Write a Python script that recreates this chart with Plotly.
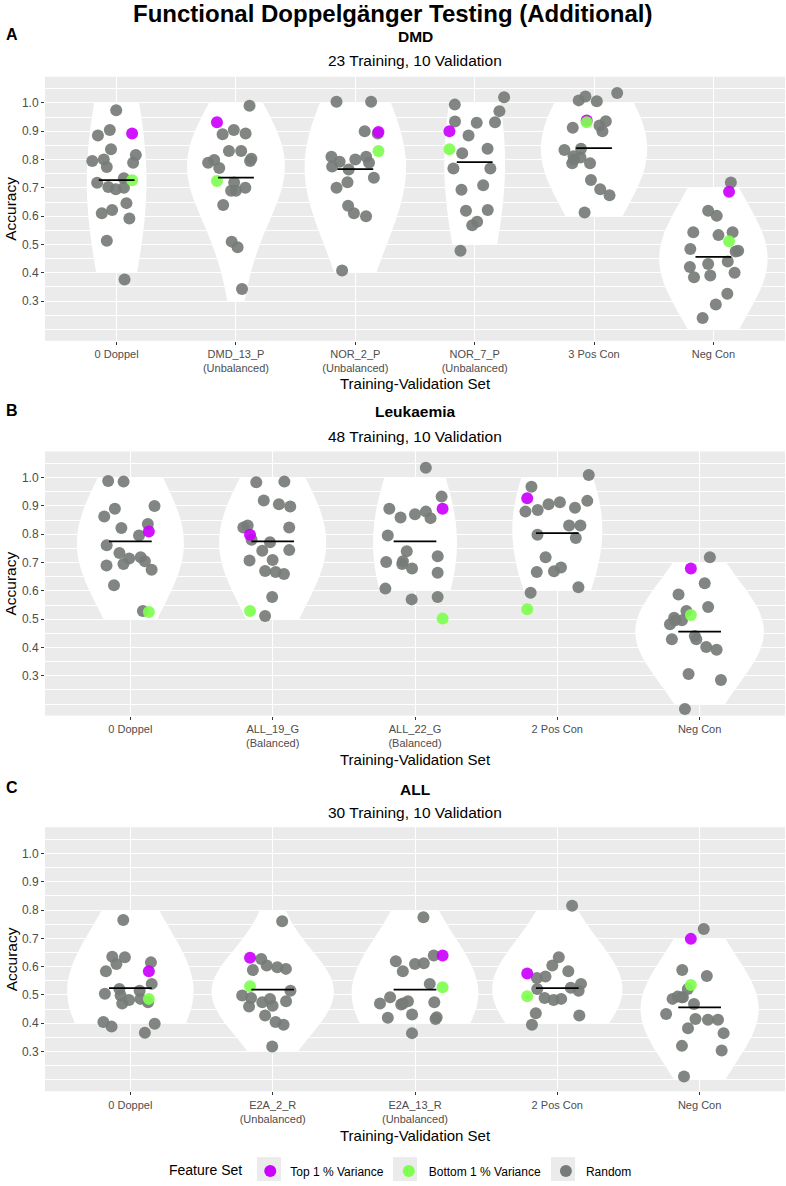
import numpy as np
import plotly.graph_objects as go

W, H = 786, 1186

# ---------------- DATA ----------------
dmd_categories = ["0 Doppel", "DMD_13_P", "NOR_2_P", "NOR_7_P", "3 Pos Con", "Neg Con"]
dmd_ticklabels = ["0 Doppel", "DMD_13_P<br>(Unbalanced)", "NOR_2_P<br>(Unbalanced)",
                  "NOR_7_P<br>(Unbalanced)", "3 Pos Con", "Neg Con"]
dmd_random = [
    [0.974, 0.904, 0.885, 0.836, 0.816, 0.800, 0.795, 0.789, 0.774, 0.734, 0.718, 0.703, 0.695, 0.700, 0.646, 0.622, 0.610, 0.592, 0.513, 0.376],
    [0.990, 0.904, 0.889, 0.892, 0.830, 0.830, 0.789, 0.795, 0.803, 0.798, 0.770, 0.719, 0.690, 0.690, 0.700, 0.639, 0.510, 0.490, 0.343],
    [1.004, 1.004, 0.900, 0.892, 0.789, 0.810, 0.800, 0.810, 0.792, 0.775, 0.765, 0.736, 0.720, 0.700, 0.637, 0.610, 0.600, 0.408],
    [1.020, 0.994, 0.971, 0.932, 0.930, 0.934, 0.885, 0.838, 0.822, 0.768, 0.768, 0.709, 0.693, 0.619, 0.622, 0.580, 0.568, 0.478],
    [1.035, 1.009, 1.006, 1.023, 0.920, 0.935, 0.900, 0.912, 0.838, 0.834, 0.807, 0.800, 0.787, 0.787, 0.812, 0.728, 0.674, 0.695, 0.613],
    [0.719, 0.619, 0.601, 0.533, 0.543, 0.543, 0.484, 0.475, 0.478, 0.440, 0.431, 0.420, 0.400, 0.390, 0.384, 0.326, 0.288, 0.240],
]
dmd_top = [0.892, 0.932, 0.897, 0.900, 0.938, 0.686]
dmd_bottom = [0.727, 0.724, 0.830, 0.836, 0.932, 0.511]
dmd_means = [0.727, 0.736, 0.766, 0.791, 0.840, 0.456]

leuk_categories = ["0 Doppel", "ALL_19_G", "ALL_22_G", "2 Pos Con", "Neg Con"]
leuk_ticklabels = ["0 Doppel", "ALL_19_G<br>(Balanced)", "ALL_22_G<br>(Balanced)", "2 Pos Con", "Neg Con"]
leuk_random = [
    [0.988, 0.986, 0.900, 0.890, 0.863, 0.836, 0.822, 0.796, 0.761, 0.734, 0.714, 0.705, 0.719, 0.690, 0.695, 0.675, 0.620, 0.529],
    [0.984, 0.986, 0.906, 0.919, 0.898, 0.831, 0.824, 0.824, 0.781, 0.772, 0.744, 0.742, 0.707, 0.709, 0.660, 0.667, 0.670, 0.578, 0.511],
    [1.035, 0.933, 0.890, 0.880, 0.871, 0.857, 0.859, 0.796, 0.740, 0.722, 0.705, 0.695, 0.679, 0.702, 0.664, 0.608, 0.578, 0.570],
    [1.009, 0.968, 0.906, 0.880, 0.894, 0.886, 0.918, 0.913, 0.831, 0.831, 0.798, 0.787, 0.719, 0.683, 0.669, 0.667, 0.613, 0.593],
    [0.719, 0.627, 0.587, 0.543, 0.529, 0.505, 0.482, 0.496, 0.496, 0.441, 0.429, 0.429, 0.392, 0.402, 0.306, 0.285, 0.183],
]
leuk_top = [0.810, 0.798, 0.890, 0.927, 0.679]
leuk_bottom = [0.525, 0.529, 0.502, 0.535, 0.515]
leuk_means = [0.775, 0.775, 0.775, 0.804, 0.456]

all_categories = ["0 Doppel", "E2A_2_R", "E2A_13_R", "2 Pos Con", "Neg Con"]
all_ticklabels = ["0 Doppel", "E2A_2_R<br>(Unbalanced)", "E2A_13_R<br>(Unbalanced)", "2 Pos Con", "Neg Con"]
all_random = [
    [0.765, 0.635, 0.633, 0.615, 0.609, 0.584, 0.539, 0.521, 0.515, 0.498, 0.504, 0.486, 0.482, 0.474, 0.470, 0.398, 0.404, 0.388, 0.366],
    [0.760, 0.627, 0.598, 0.604, 0.592, 0.588, 0.515, 0.498, 0.478, 0.474, 0.486, 0.489, 0.462, 0.459, 0.427, 0.395, 0.404, 0.318],
    [0.774, 0.639, 0.612, 0.619, 0.609, 0.584, 0.539, 0.492, 0.474, 0.470, 0.470, 0.466, 0.478, 0.419, 0.421, 0.431, 0.415, 0.365],
    [0.815, 0.633, 0.604, 0.584, 0.565, 0.560, 0.539, 0.525, 0.515, 0.521, 0.489, 0.486, 0.482, 0.435, 0.427, 0.395],
    [0.733, 0.588, 0.567, 0.521, 0.492, 0.494, 0.492, 0.468, 0.486, 0.433, 0.412, 0.412, 0.415, 0.382, 0.365, 0.304, 0.320, 0.212],
]
all_top = [0.584, 0.631, 0.639, 0.576, 0.698]
all_bottom = [0.486, 0.531, 0.527, 0.495, 0.535]
all_means = [0.524, 0.519, 0.519, 0.524, 0.456]

y_ticks = [0.3, 0.4, 0.5, 0.6, 0.7, 0.8, 0.9, 1.0]
y_minor = [0.2, 0.25, 0.35, 0.45, 0.55, 0.65, 0.75, 0.85, 0.95, 1.05]

legend_names = ["Top 1 % Variance", "Bottom 1 % Variance", "Random"]

# ---------------- STYLE ----------------
FONT = "Liberation Sans, Arial, sans-serif"
COL_RANDOM = "#767C77"
COL_TOP = "#CC00FF"
COL_BOTTOM = "#7FFF50"
legend_colors = [COL_TOP, COL_BOTTOM, COL_RANDOM]
PANEL_BG = "#EBEBEB"
X_LEFT, X_RIGHT = 45, 785

# violin look: max width (x units) and end-to-peak width ratios (top end, bottom end)
dmd_vwidth = [0.50, 0.82, 0.85, 0.51, 0.89, 0.90]
dmd_vends = [(0.78, 0.66), (0.57, 0.15), (0.65, 0.45), (0.90, 0.70), (0.76, 0.53), (0.46, 0.48)]
leuk_vwidth = [0.75, 0.75, 0.59, 0.63, 0.90]
leuk_vends = [(0.63, 0.48), (0.63, 0.48), (0.71, 0.88), (0.78, 0.76), (0.41, 0.40)]
all_vwidth = [0.885, 0.86, 0.89, 0.91, 0.83]
all_vends = [(0.46, 0.84), (0.29, 0.35), (0.38, 0.84), (0.29, 0.84), (0.52, 0.34)]

# legend placement (px) and key-box centres
LEGEND_LEFT, LEGEND_Y = 167, 1175
KEY_CENTERS = [269, 405, 563]


def px_x(x):
    return x / W


def px_y(y):
    return 1 - y / H


def kde(x, grid, bw):
    return np.exp(-0.5 * ((grid[:, None] - x[None, :]) / bw) ** 2).sum(1)


def pick_bandwidth(x, ends):
    """Smoothing bandwidth whose trimmed KDE best matches the wanted end/peak widths."""
    x = np.asarray(x, float)
    grid = np.linspace(x.min(), x.max(), 200)
    best, best_err = None, np.inf
    for bw in np.linspace(0.02, 0.8, 400):
        d = kde(x, grid, bw)
        d = d / d.max()
        err = (d[-1] - ends[0]) ** 2 + (d[0] - ends[1]) ** 2
        if err < best_err:
            best, best_err = bw, err
    return best


panels = [
    dict(cats=dmd_categories, labels=dmd_ticklabels, rnd=dmd_random, top=dmd_top, bot=dmd_bottom,
         means=dmd_means, vw=dmd_vwidth, ve=dmd_vends, title="DMD", sub="23 Training, 10 Validation",
         letter="A", ptop=77, pbot=342, letter_y=35, title_y=37, sub_y=61, xt_y=385),
    dict(cats=leuk_categories, labels=leuk_ticklabels, rnd=leuk_random, top=leuk_top, bot=leuk_bottom,
         means=leuk_means, vw=leuk_vwidth, ve=leuk_vends, title="Leukaemia", sub="48 Training, 10 Validation",
         letter="B", ptop=453, pbot=718, letter_y=412, title_y=413, sub_y=438, xt_y=762),
    dict(cats=all_categories, labels=all_ticklabels, rnd=all_random, top=all_top, bot=all_bottom,
         means=all_means, vw=all_vwidth, ve=all_vends, title="ALL", sub="30 Training, 10 Validation",
         letter="C", ptop=830, pbot=1095, letter_y=790, title_y=792, sub_y=815, xt_y=1139),
]

fig = go.Figure()
annotations = []
layout_axes = {}

for i, p in enumerate(panels, start=1):
    xa = "x" if i == 1 else f"x{i}"
    ya = "y" if i == 1 else f"y{i}"
    cats = p["cats"]
    n = len(cats)
    unit_px = (X_RIGHT - X_LEFT) / (n + 0.2)

    # violins: from the underlying accuracy values (jitter removed)
    for c, v, w, ends in zip(cats, p["rnd"], p["vw"], p["ve"]):
        vd = np.round(np.asarray(v, float), 1)
        fig.add_trace(go.Violin(
            x=[c] * len(vd), y=vd, bandwidth=pick_bandwidth(vd, ends), spanmode="hard",
            scalemode="width", width=w, fillcolor="white", line=dict(color="white", width=0),
            points=False, box_visible=False, meanline_visible=False, opacity=1,
            showlegend=False, hoverinfo="skip", xaxis=xa, yaxis=ya))

    # jittered points
    rx, ry = [], []
    for c, v in zip(cats, p["rnd"]):
        rx += [c] * len(v)
        ry += list(v)
    for xs, ys, col in [(rx, ry, COL_RANDOM), (cats, p["top"], COL_TOP), (cats, p["bot"], COL_BOTTOM)]:
        fig.add_trace(go.Box(
            x=xs, y=ys, boxpoints="all", jitter=1.0, pointpos=0, width=0.5,
            fillcolor="rgba(0,0,0,0)", line=dict(color="rgba(0,0,0,0)", width=0),
            whiskerwidth=0, marker=dict(color=col, size=12, opacity=0.92, line=dict(width=0)),
            showlegend=False, hoverinfo="y", xaxis=xa, yaxis=ya))

    # mean lines
    fig.add_trace(go.Scatter(
        x=cats, y=p["means"], mode="markers",
        marker=dict(symbol="line-ew", size=0.3 * unit_px / 1.4, line=dict(width=1.8, color="black")),
        showlegend=False, hoverinfo="skip", xaxis=xa, yaxis=ya))

    dom_y = [px_y(p["pbot"]), px_y(p["ptop"])]
    layout_axes["xaxis" if i == 1 else f"xaxis{i}"] = dict(
        type="category", categoryorder="array", categoryarray=cats,
        range=[-0.6, n - 0.4], domain=[px_x(X_LEFT), px_x(X_RIGHT)], anchor=ya,
        tickmode="array", tickvals=cats, ticktext=p["labels"],
        showgrid=True, gridcolor="white", gridwidth=1.1, zeroline=False, showline=False,
        ticks="outside", ticklen=3, tickcolor="#333333", tickwidth=1,
        tickfont=dict(family=FONT, size=11, color="#4D4D4D"), fixedrange=True)
    layout_axes["yaxis" if i == 1 else f"yaxis{i}"] = dict(
        range=[0.1595, 1.0925], domain=dom_y, anchor=xa,
        tickmode="array", tickvals=y_ticks, ticktext=[f"{t:.1f}" for t in y_ticks],
        showgrid=True, gridcolor="white", gridwidth=1.1, zeroline=False, showline=False,
        minor=dict(tickmode="array", tickvals=y_minor, showgrid=True, gridcolor="white",
                   gridwidth=0.55, ticks=""),
        ticks="outside", ticklen=3, tickcolor="#333333", tickwidth=1,
        tickfont=dict(family=FONT, size=12, color="#4D4D4D"), fixedrange=True)

    cx = px_x((X_LEFT + X_RIGHT) / 2)
    annotations += [
        dict(text=f"<b>{p['letter']}</b>", x=px_x(4), y=px_y(p["letter_y"]), xanchor="left",
             yanchor="middle", font=dict(family=FONT, size=16, color="black")),
        dict(text=f"<b>{p['title']}</b>", x=cx, y=px_y(p["title_y"]), xanchor="center",
             yanchor="middle", font=dict(family=FONT, size=15.5, color="black")),
        dict(text=p["sub"], x=cx, y=px_y(p["sub_y"]), xanchor="center", yanchor="middle",
             font=dict(family=FONT, size=15.5, color="black")),
        dict(text="Training-Validation Set", x=cx, y=px_y(p["xt_y"]), xanchor="center",
             yanchor="middle", font=dict(family=FONT, size=15, color="black")),
        dict(text="Accuracy", x=px_x(11), y=px_y((p["ptop"] + p["pbot"]) / 2), textangle=-90,
             xanchor="center", yanchor="middle", font=dict(family=FONT, size=15.5, color="black")),
    ]

annotations.append(dict(text="<b>Functional Doppelgänger Testing (Additional)</b>", x=0.5, y=px_y(14),
                         xanchor="center", yanchor="middle",
                         font=dict(family=FONT, size=24, color="black")))
for a in annotations:
    a.update(xref="paper", yref="paper", showarrow=False)

# legend entries
for name, col in zip(legend_names, legend_colors):
    fig.add_trace(go.Scatter(x=[None], y=[None], mode="markers", name=name,
                             marker=dict(color=col, size=12), showlegend=True))

# grey key backgrounds (ggplot legend keys)
shapes = [dict(type="rect", xref="paper", yref="paper", layer="below",
               x0=px_x(kc - 12), x1=px_x(kc + 12), y0=px_y(LEGEND_Y - 2 + 12), y1=px_y(LEGEND_Y - 2 - 12),
               fillcolor="#EBEBEB", line=dict(width=0))
          for kc in KEY_CENTERS]

fig.update_layout(
    width=W, height=H, margin=dict(l=0, r=0, t=0, b=0), autosize=False,
    paper_bgcolor="white", plot_bgcolor=PANEL_BG,
    violinmode="overlay", boxmode="overlay",
    font=dict(family=FONT, size=12, color="black"),
    annotations=annotations, shapes=shapes,
    legend=dict(orientation="h", x=px_x(LEGEND_LEFT), xanchor="left", y=px_y(LEGEND_Y), yanchor="middle",
                title=dict(text="Feature Set", font=dict(family=FONT, size=14), side="left"),
                font=dict(family=FONT, size=12), itemsizing="constant", itemwidth=30,
                bgcolor="rgba(0,0,0,0)", traceorder="normal"),
    **layout_axes,
)

fig.write_html("out.html", config={"displayModeBar": False},
               post_script="document.body.style.margin='0';")
